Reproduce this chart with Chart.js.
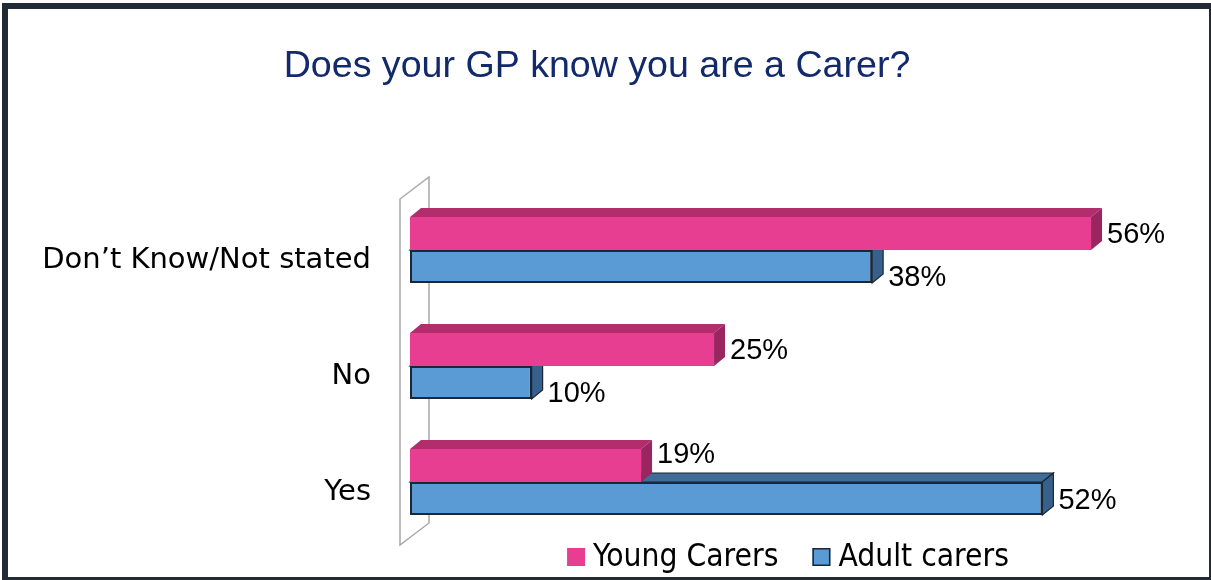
<!DOCTYPE html>
<html><head><meta charset="utf-8">
<script src="https://cdn.jsdelivr.net/npm/chart.js@4.4.0/dist/chart.umd.min.js"></script>
<style>
html,body{margin:0;padding:0;background:#fff;overflow:hidden}
#wrap{position:relative;width:1211px;height:580px}
#c{position:absolute;left:0;top:0}
#frame{position:absolute;left:2px;top:3px;width:1201px;height:568px;border-left:6px solid #222a36;border-top:6px solid #222a36;border-right:2px solid #222a36;border-bottom:3px solid #222a36;pointer-events:none}
</style></head><body>
<div id="wrap"><canvas id="c" width="1211" height="580"></canvas><div id="frame"></div></div>
<script>
const categories = ['Don\u2019t Know/Not stated', 'No', 'Yes'];
const seriesNames = ['Young Carers', 'Adult carers'];
const youngCarers = [56, 25, 19];
const adultCarers = [38, 10, 52];
const axisMax = 62;
const chartTitle = 'Does your GP know you are a Carer?';

const styles = [
  {front:'#E83E92', top:'#B12D6C', side:'#9A2660', edge:null},
  {front:'#5B9BD5', top:'#3F6C98', side:'#36618C', edge:'#1D2733'}
];
const DX = 11, DY = 9;

const depthPlugin = {
  id: 'depth',
  beforeDatasetsDraw(chart) {
    const ctx = chart.ctx, a = chart.chartArea;
    ctx.save();
    ctx.strokeStyle = '#a8a8a8'; ctx.lineWidth = 1.5;
    ctx.beginPath();
    ctx.moveTo(a.left - 10, a.top + 7);
    ctx.lineTo(a.left + 19, a.top - 15);
    ctx.lineTo(a.left + 19, a.bottom - 17);
    ctx.lineTo(a.left - 10, a.bottom + 5);
    ctx.closePath();
    ctx.stroke();
    [1, 0].forEach(di => {
      const meta = chart.getDatasetMeta(di);
      const st = styles[di];
      meta.data.forEach(bar => {
        const p = bar.getProps(['x', 'y', 'base', 'height'], true);
        const top = p.y - p.height / 2, bottom = p.y + p.height / 2;
        ctx.beginPath();
        ctx.moveTo(p.base, top); ctx.lineTo(p.base + DX, top - DY);
        ctx.lineTo(p.x + DX, top - DY); ctx.lineTo(p.x, top); ctx.closePath();
        ctx.fillStyle = st.top; ctx.fill();
        if (st.edge) { ctx.strokeStyle = st.edge; ctx.lineWidth = 1.2; ctx.stroke(); }
        ctx.beginPath();
        ctx.moveTo(p.x, top); ctx.lineTo(p.x + DX, top - DY);
        ctx.lineTo(p.x + DX, bottom - DY); ctx.lineTo(p.x, bottom); ctx.closePath();
        ctx.fillStyle = st.side; ctx.fill();
        if (st.edge) { ctx.strokeStyle = st.edge; ctx.lineWidth = 1.2; ctx.stroke(); }
      });
    });
    ctx.restore();
  },
  afterDatasetsDraw(chart) {
    const ctx = chart.ctx;
    ctx.save();
    ctx.font = '29px "Liberation Sans", Arial, sans-serif';
    ctx.fillStyle = '#000';
    ctx.textAlign = 'left'; ctx.textBaseline = 'middle';
    const sets = chart.data.datasets;
    sets.forEach((ds, di) => {
      const other = sets[1 - di];
      chart.getDatasetMeta(di).data.forEach((bar, i) => {
        const p = bar.getProps(['x', 'y'], true);
        // a shorter bar's label moves away from its longer neighbour
        const shorter = ds.data[i] < other.data[i];
        const dy = shorter ? (di === 0 ? -10 : 11) : 2;
        ctx.fillText(ds.data[i] + '%', p.x + DX + 5, p.y + dy);
      });
    });
    ctx.restore();
  },
  afterDraw(chart) {
    const ctx = chart.ctx, a = chart.chartArea;
    ctx.save();
    ctx.font = '31.5px "DejaVu Sans Condensed", "DejaVu Sans", sans-serif';
    ctx.textAlign = 'left'; ctx.textBaseline = 'middle';
    const box = 18, gapText = 8, gapItem = 34;
    const items = chart.data.datasets.map((d, i) => ({text: d.label, st: styles[i], w: ctx.measureText(d.label).width}));
    const total = items.reduce((s, it) => s + box + gapText + it.w, 0) + gapItem * (items.length - 1);
    let x = a.left + 378 - total / 2;
    const cy = a.bottom + 17;
    items.forEach(it => {
      ctx.fillStyle = it.st.front;
      ctx.fillRect(x, cy - box / 2, box, box);
      if (it.st.edge) { ctx.strokeStyle = it.st.edge; ctx.lineWidth = 1.5; ctx.strokeRect(x + 0.75, cy - box / 2 + 0.75, box - 1.5, box - 1.5); }
      ctx.fillStyle = '#000';
      ctx.fillText(it.text, x + box + gapText, cy + 1);
      x += box + gapText + it.w + gapItem;
    });
    ctx.restore();
  }
};

new Chart(document.getElementById('c'), {
  type: 'bar',
  data: {
    labels: categories,
    datasets: [
      {label: seriesNames[0], data: youngCarers, backgroundColor: styles[0].front, borderWidth: 0, order: 0},
      {label: seriesNames[1], data: adultCarers, backgroundColor: styles[1].front, borderColor: styles[1].edge, borderWidth: 2, borderSkipped: false, order: 1}
    ]
  },
  options: {
    responsive: false, animation: false, devicePixelRatio: 1,
    indexAxis: 'y',
    datasets: {bar: {barPercentage: 1, categoryPercentage: 0.57}},
    layout: {padding: {left: 30, right: 47, top: 0, bottom: 40}},
    plugins: {
      legend: {display: false},
      tooltip: {enabled: false},
      title: {display: true, text: chartTitle, color: '#12296B',
        font: {family: '"Liberation Sans", Arial, sans-serif', size: 37.6, weight: 'normal', lineHeight: 1.2},
        padding: {top: 44, bottom: 102.9}}
    },
    scales: {
      x: {display: false, min: 0, max: axisMax},
      y: {
        afterFit(s) { s.width = 380; },
        grid: {display: false, drawTicks: true, tickLength: 39},
        border: {display: false},
        ticks: {padding: 0, labelOffset: 10, color: '#000', font: {family: '"DejaVu Sans", sans-serif', size: 29}}
      }
    }
  },
  plugins: [depthPlugin]
});
</script>
</body></html>
